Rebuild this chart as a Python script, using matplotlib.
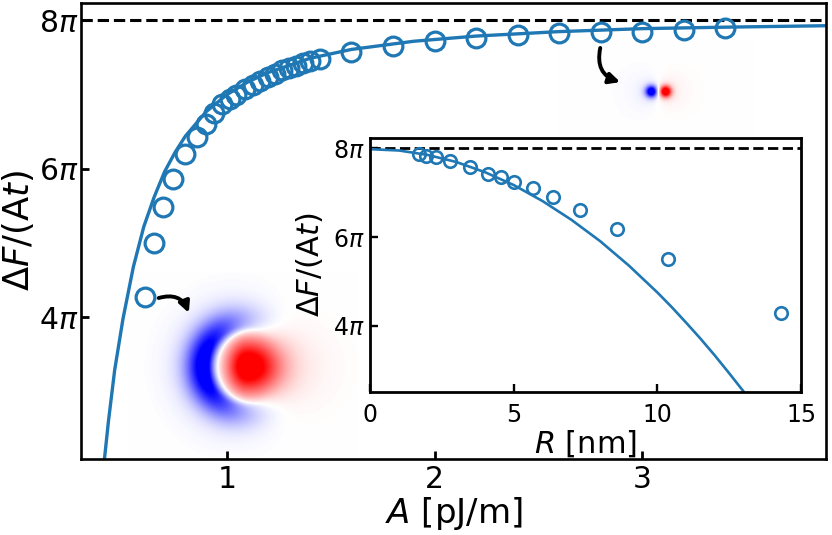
import numpy as np
import matplotlib
matplotlib.use("Agg")
import matplotlib.pyplot as plt

# main panel: energy barrier (units of pi) vs exchange stiffness A [pJ/m]
A_pts = [0.605, 0.649, 0.695, 0.741, 0.80, 0.854, 0.902, 0.937, 0.979, 1.014,
         1.046, 1.086, 1.126, 1.161, 1.198, 1.23, 1.267, 1.299, 1.334, 1.366,
         1.40, 1.45, 1.6, 1.8, 2.0, 2.2, 2.4, 2.6, 2.8, 3.0, 3.2, 3.4]
dF_pts = [4.27, 5.0, 5.49, 5.87, 6.20, 6.43, 6.61, 6.75, 6.87, 6.94,
          7.0, 7.07, 7.13, 7.19, 7.24, 7.28, 7.33, 7.36, 7.39, 7.43,
          7.45, 7.48, 7.57, 7.66, 7.72, 7.77, 7.81, 7.83, 7.84, 7.85, 7.87, 7.90]

A_fit = [0.41, 0.43, 0.46, 0.50, 0.55, 0.60, 0.65, 0.70, 0.75, 0.80, 0.90, 1.00,
         1.10, 1.20, 1.40, 1.60, 1.90, 2.20, 2.60, 3.00, 3.40, 3.90]
dF_fit = [2.07, 2.60, 3.29, 3.98, 4.68, 5.22, 5.62, 5.96, 6.22, 6.44, 6.77, 7.00,
          7.17, 7.30, 7.49, 7.61, 7.72, 7.79, 7.85, 7.89, 7.91, 7.93]

# inset: energy barrier vs skyrmion radius R [nm]
R_pts = [1.71, 1.95, 2.28, 2.76, 3.48, 4.10, 4.54, 5.0, 5.66, 6.37, 7.31, 8.59, 10.35, 14.29]
dF_R_pts = [7.865, 7.835, 7.80, 7.72, 7.58, 7.43, 7.35, 7.24, 7.10, 6.90, 6.61, 6.18, 5.50, 4.28]

R_fit = [0, 1, 2, 3, 4, 5, 6, 7, 8, 9, 10, 10.5, 11, 11.5, 12, 12.5, 13]
dF_R_fit = [7.98, 7.95, 7.85, 7.69, 7.46, 7.17, 6.81, 6.39, 5.91, 5.36, 4.75,
            4.42, 4.07, 3.71, 3.33, 2.93, 2.52]

pi_ticks = [4, 6, 8]
pi_labels = [r"$4\pi$", r"$6\pi$", r"$8\pi$"]
limit = 8

blue = "#1f77b4"


def big_skyrmion():
    # illustrative texture on a grid of screen pixels
    dx, dy = np.meshgrid(np.arange(-120, 111), np.arange(-95, 91))
    r = np.hypot(dx, dy)
    c = np.cos(np.arctan2(dy, dx))
    red = np.exp(-0.5 * ((dx / np.where(dx > 0, 22, 15)) ** 2 + (dy / 19) ** 2))
    red += 0.15 * np.exp(-0.5 * ((dx / np.where(dx > 0, 45, 20)) ** 2 + (dy / 32) ** 2))
    d = r - 42
    ring = np.exp(-0.5 * (d / np.where(d < 0, 6, 13)) ** 2) * ((1 - c) / 2) ** 1.6
    ring += 0.12 * np.exp(-0.5 * ((r - 50) / 22) ** 2) * (1 - c) / 2
    return np.clip(1.1 * (red - ring), -1, 1)


def small_skyrmion():
    dx, dy = np.meshgrid(np.arange(-100, 96), np.arange(-50, 51))
    g = lambda q: (1.2 * np.exp(-0.5 * (q / 4) ** 2) + 0.25 * np.exp(-q / 8)
                   + 0.06 * np.exp(-q / 30))
    f = g(np.hypot(dx - 7, dy)) - g(np.hypot(dx + 7, dy))
    return np.clip(f, -1, 1)


fig = plt.figure(figsize=(8.32, 5.35), dpi=100)
ax = fig.add_axes([0.0974, 0.142, 0.8954, 0.853])

ax.axhline(limit, color="k", ls="--", lw=2.2, zorder=1)
ax.plot(A_fit, dF_fit, color=blue, lw=2.4, zorder=2)
ax.plot(A_pts, dF_pts, "o", mfc="none", mec=blue, ms=13.5, mew=2.3, zorder=3)

ax.imshow(big_skyrmion(), cmap="bwr", vmin=-1, vmax=1, aspect="auto",
          extent=[0.518, 1.6265, 2.116, 4.611], interpolation="bilinear", zorder=0.5)
ax.imshow(small_skyrmion(), cmap="bwr", vmin=-1, vmax=1, aspect="auto",
          extent=[2.595, 3.535, 6.368, 7.717], interpolation="bilinear", zorder=0.5)

arrow = dict(arrowstyle="-|>", color="k", lw=2.8, mutation_scale=16,
             shrinkA=0, shrinkB=0)
ax.annotate("", xy=(0.817, 4.06), xytext=(0.672, 4.26),
            arrowprops=dict(arrow, connectionstyle="arc3,rad=-0.45"))
ax.annotate("", xy=(2.894, 7.17), xytext=(2.798, 7.63),
            arrowprops=dict(arrow, connectionstyle="arc3,rad=0.45"))

ax.set_xlim(0.298, 3.885)
ax.set_ylim(2.09, 8.24)
ax.set_xticks([1, 2, 3])
ax.set_yticks(pi_ticks, pi_labels)
ax.tick_params(direction="in", length=6, width=2, labelsize=21.5)
ax.tick_params(axis="y", pad=2)
ax.tick_params(axis="x", pad=4)
for s in ax.spines.values():
    s.set_linewidth(1.9)
ax.set_xlabel(r"$A$ [pJ/m]", fontsize=24.5, labelpad=1)
ax.set_ylabel(r"$\Delta F/(\mathrm{A}t)$", fontsize=25.5, labelpad=2)

# inset
ins = fig.add_axes([0.4451, 0.2673, 0.5177, 0.4742], zorder=5)
ins.set_facecolor("white")
ins.axhline(limit, color="k", ls="--", lw=2.0, zorder=1)
ins.plot(R_fit, dF_R_fit, color=blue, lw=1.9, zorder=2)
ins.plot(R_pts, dF_R_pts, "o", mfc="none", mec=blue, ms=9, mew=1.9, zorder=3)
ins.set_xlim(0, 15)
ins.set_ylim(2.51, 8.225)
ins.set_xticks([0, 5, 10, 15])
ins.set_yticks(pi_ticks, pi_labels)
ins.tick_params(direction="in", length=5.5, width=1.7, labelsize=17)
ins.tick_params(axis="x", pad=8)
ins.tick_params(axis="y", pad=4)
for s in ins.spines.values():
    s.set_linewidth(2)
ins.set_xlabel(r"$R$ [nm]", fontsize=22, labelpad=1)
ins.set_ylabel(r"$\Delta F/(\mathrm{A}t)$", fontsize=22, labelpad=6)

fig.savefig("out.png", dpi=100)
